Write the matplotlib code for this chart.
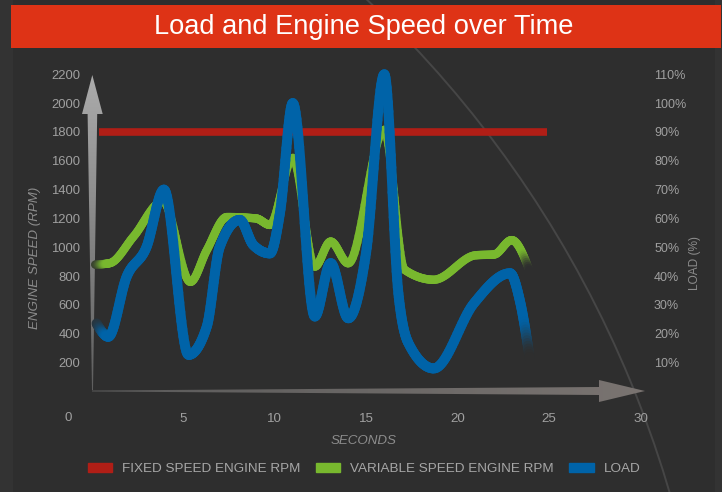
import numpy as np
import matplotlib.pyplot as plt
from matplotlib.patches import Polygon, Rectangle, Patch, Arc
from matplotlib.collections import LineCollection
from matplotlib.bezier import BezierSegment
from matplotlib.colors import LinearSegmentedColormap, to_rgb

plt.rcParams['font.family'] = ['Liberation Sans', 'DejaVu Sans']

# ---- data ----
fixed_t = [0.4, 24.9]
fixed_rpm = [1800, 1800]

var_t = [0.2, 1.0, 2.3, 3.9, 5.4, 6.3, 7.4, 9.0, 9.75, 11.0, 12.2, 13.07, 14.03,
         16.0, 17.1, 18.7, 21.0, 22.0, 22.96, 23.96]
var_rpm = [880, 890, 1075, 1320, 760, 980, 1210, 1200, 1155, 1620, 866, 1040, 889,
           1815, 845, 775, 945, 950, 1050, 830]

load_t = [0.28, 0.92, 1.92, 3.0, 3.96, 5.3, 6.3, 7.0, 8.1, 8.84, 9.75, 10.3, 11.0,
          12.2, 13.07, 14.03, 15.0, 16.0, 16.77, 17.3, 18.7, 20.9, 22.87, 23.4, 23.96]
load_pct = [23.6, 19, 39.8, 50, 70, 12.7, 22.5, 50, 59.5, 50.8, 47.9, 62, 100,
            26, 44.5, 25.4, 48, 110, 34, 17, 8, 30.6, 41, 31.7, 11]

rpm_ticks = list(range(200, 2201, 200))
load_ticks = list(range(10, 111, 10))
sec_ticks = [5, 10, 15, 20, 25, 30]

BG = '#2e2e2e'
RED = '#b01e16'
GREEN = '#78b82e'
BLUE = '#0063a8'
TICK = '#a0a0a0'
LABEL = '#8c8c8c'

W, H = 722, 492


def fx(px):
    return px / W


def fy(py):
    return 1 - py / H


def monotone_curve(xs, ys, steps=24):
    # monotone cubic (same idea as d3 curveMonotoneX), drawn via bezier segments
    x = np.asarray(xs, float)
    y = np.asarray(ys, float)
    n = len(x)
    h = np.diff(x)
    s = np.diff(y) / h
    m = np.zeros(n)
    for i in range(1, n - 1):
        h0, h1, s0, s1 = h[i - 1], h[i], s[i - 1], s[i]
        p = (s0 * h1 + s1 * h0) / (h0 + h1)
        m[i] = (np.sign(s0) + np.sign(s1)) * min(abs(s0), abs(s1), 0.5 * abs(p))
    m[0] = (3 * s[0] - m[1]) / 2
    m[-1] = (3 * s[-1] - m[-2]) / 2
    pts = []
    tt = np.linspace(0, 1, steps + 1)
    for i in range(n - 1):
        d = h[i] / 3
        ctrl = np.array([[x[i], y[i]], [x[i] + d, y[i] + d * m[i]],
                         [x[i + 1] - d, y[i + 1] - d * m[i + 1]], [x[i + 1], y[i + 1]]])
        p = BezierSegment(ctrl)(tt)
        pts.append(p if i == 0 else p[1:])
    return np.vstack(pts)


def draw_line(ax, xs, ys, color, lw, fade_in, fade_out, z):
    pts = monotone_curve(xs, ys)
    segs = np.stack([pts[:-1], pts[1:]], axis=1)
    n = len(segs)
    f = np.ones(n)
    if fade_in:
        r = np.clip(np.arange(n) / fade_in, 0, 1)
        f = np.minimum(f, 0.15 + 0.85 * r * r * (3 - 2 * r))
    if fade_out:
        r = np.clip((n - 1 - np.arange(n)) / fade_out, 0, 1)
        f = np.minimum(f, r * r * (3 - 2 * r))
    c1 = np.array(to_rgb(color))
    c0 = np.array(to_rgb(BG))
    cols = c0[None, :] * (1 - f[:, None]) + c1[None, :] * f[:, None]
    lc = LineCollection(segs, colors=cols, linewidths=lw, capstyle='round',
                        joinstyle='round', zorder=z)
    ax.add_collection(lc)


fig = plt.figure(figsize=(7.22, 4.92), dpi=100, facecolor=BG)

# background layer in pixel coordinates
bg = fig.add_axes([0, 0, 1, 1], zorder=0)
bg.set_xlim(0, W)
bg.set_ylim(H, 0)
bg.axis('off')
bg.add_patch(Rectangle((0, 0), 13, H, color='#333333', lw=0))
bg.add_patch(Rectangle((715, 0), 7, H, color='#333333', lw=0))
bg.add_patch(Arc((-387, 802), 2 * 1101, 2 * 1101, theta1=0, theta2=360,
                 color='#464646', lw=1.4))
bg.add_patch(Rectangle((11, 4.5), 710, 43, color='#de3316', lw=0))

# vertical gradient arrow
yarrow = Polygon([(92, 390), (93, 390), (97.2, 114), (102.7, 114), (92.3, 75),
                  (82, 114), (87.6, 114)], closed=True, fc='none', ec='none')
bg.add_patch(yarrow)
cm_y = LinearSegmentedColormap.from_list('ya', ['#acacac', '#5e5e5e'])
im = bg.imshow(np.linspace(0, 1, 256)[:, None], extent=(80, 105, 392, 74), origin='upper',
               cmap=cm_y, aspect='auto', zorder=2)
im.set_clip_path(yarrow)

# horizontal gradient arrow
xarrow = Polygon([(92, 391.5), (92, 390.5), (599, 387), (599, 380), (645, 391),
                  (599, 402), (599, 395)], closed=True, fc='none', ec='none')
bg.add_patch(xarrow)
cm_x = LinearSegmentedColormap.from_list('xa', ['#5a5a5a', '#7a7471'])
im2 = bg.imshow(np.linspace(0, 1, 256)[None, :], extent=(90, 647, 404, 378), origin='upper',
                cmap=cm_x, aspect='auto', zorder=2)
im2.set_clip_path(xarrow)
bg.set_xlim(0, W)
bg.set_ylim(H, 0)

# main chart axes
x_lo, x_hi = (85 - 91.5) / 18.3, (650 - 91.5) / 18.3
y_lo, y_hi = (391.5 - 400) / 0.1442, (391.5 - 65) / 0.1442
ax = fig.add_axes([fx(85), fy(400), (650 - 85) / W, (400 - 65) / H], zorder=1)
ax.patch.set_visible(False)
ax.set_xlim(x_lo, x_hi)
ax.set_ylim(y_lo, y_hi)
for sp in ax.spines.values():
    sp.set_visible(False)

ax.plot(fixed_t, fixed_rpm, color=RED, lw=5.5, solid_capstyle='butt', zorder=2)
draw_line(ax, var_t, var_rpm, GREEN, 6.0, 20, 10, 3)

ax.set_yticks(rpm_ticks)
ax.set_yticklabels([str(v) for v in rpm_ticks])
ax.set_xticks(sec_ticks)
ax.set_xticklabels([str(v) for v in sec_ticks])
ax.tick_params(axis='y', length=0, pad=3.6, labelcolor=TICK, labelsize=9.4)
ax.tick_params(axis='x', length=0, pad=9, labelcolor=TICK, labelsize=9.6)

ax2 = ax.twinx()
ax2.patch.set_visible(False)
ax2.set_ylim(y_lo / 20, y_hi / 20)
for sp in ax2.spines.values():
    sp.set_visible(False)
draw_line(ax2, load_t, load_pct, BLUE, 7.2, 20, 14, 4)
ax2.set_yticks(load_ticks)
ax2.set_yticklabels([f"{v}%" for v in load_ticks])
ax2.tick_params(axis='y', length=0, pad=2.9, labelcolor=TICK, labelsize=9.0)

# the "0" label sits left of the axis start in the original
fig.text(fx(68), fy(418), "0", color=TICK, fontsize=9.6, ha='center', va='center')

# titles and axis labels
fig.text(fx(364), fy(26.5), "Load and Engine Speed over Time", color='white',
         fontsize=19.6, ha='center', va='center')
fig.text(fx(35), fy(258), "ENGINE SPEED (RPM)", color=LABEL, fontsize=9.6, style='italic',
         rotation=90, ha='center', va='center')
fig.text(fx(695), fy(263), "LOAD (%)", color=LABEL, fontsize=8.6,
         rotation=90, ha='center', va='center')
fig.text(fx(364), fy(441), "SECONDS", color=LABEL, fontsize=9.6, style='italic',
         ha='center', va='center')

handles = [Patch(color=RED, label="FIXED SPEED ENGINE RPM"),
           Patch(color=GREEN, label="VARIABLE SPEED ENGINE RPM"),
           Patch(color=BLUE, label="LOAD")]
fig.legend(handles=handles, loc='center', bbox_to_anchor=(fx(364), fy(469)), ncol=3,
           frameon=False, fontsize=9.7, labelcolor='#a6a6a6', handlelength=1.8,
           handleheight=0.6, handletextpad=0.75, columnspacing=1.15, borderpad=0)

fig.savefig("out.png", dpi=100, facecolor=BG)
